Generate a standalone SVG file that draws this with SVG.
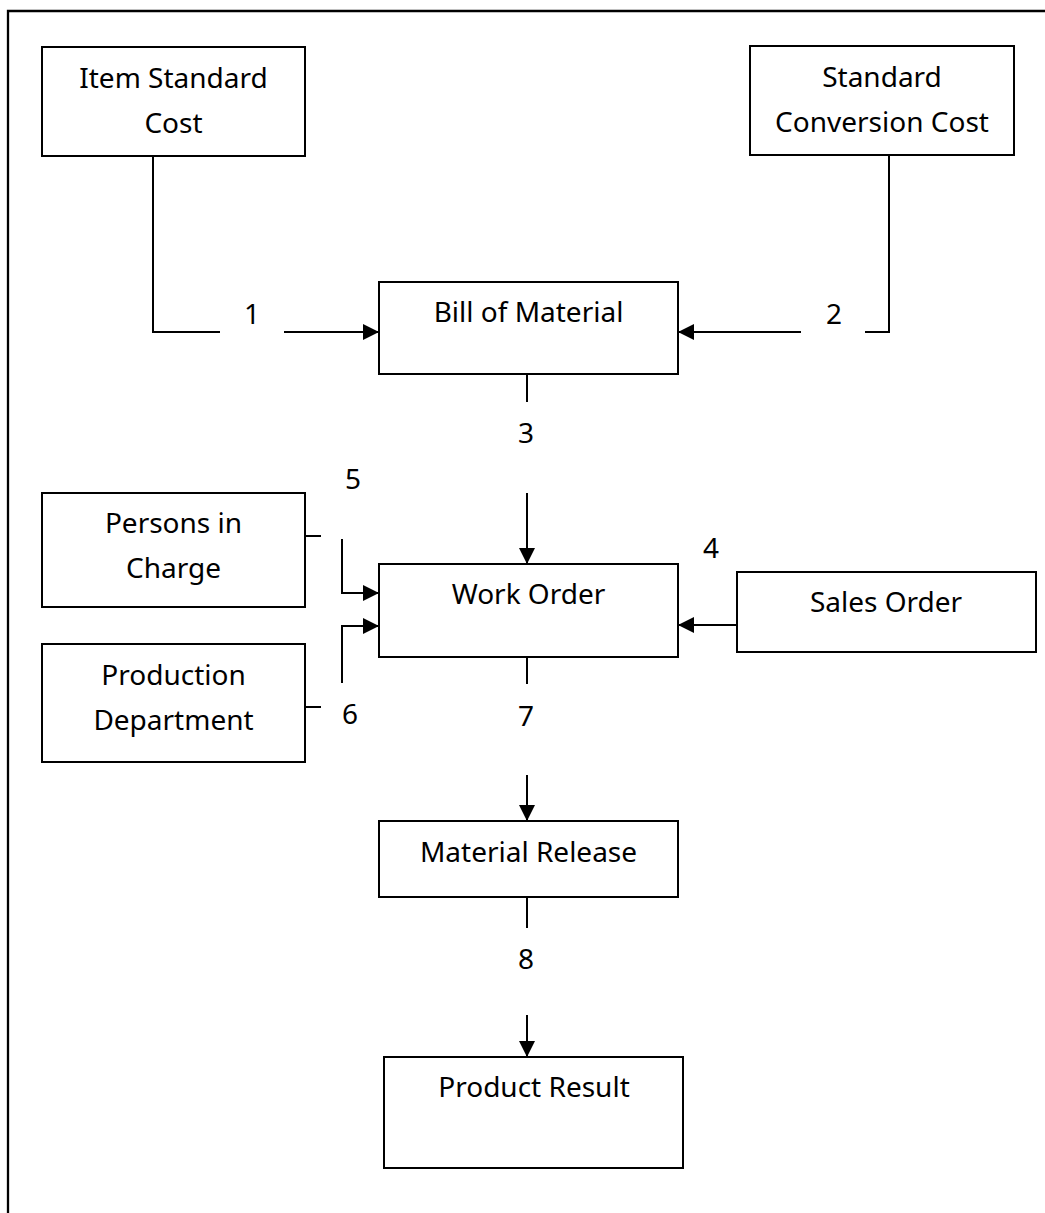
<svg xmlns="http://www.w3.org/2000/svg" width="1045" height="1213" viewBox="0 0 1045 1213">
<defs>
<style>
.box{fill:#fff;stroke:#000;stroke-width:2}
.ln{fill:none;stroke:#000;stroke-width:2}
.arr{marker-end:url(#ah)}
text{font-family:"Noto Sans","Open Sans",sans-serif;font-size:28px;fill:#000;text-anchor:middle}
</style>
<marker id="ah" markerUnits="userSpaceOnUse" markerWidth="17" markerHeight="17" viewBox="0 0 17 17" refX="16" refY="8.5" orient="auto">
<path d="M0,0.5 L16,8.5 L0,16.5 Z" fill="#000"/>
</marker>
</defs>
<rect width="1045" height="1213" fill="#fff"/>
<path d="M8,1213 V11 H1045" fill="none" stroke="#000" stroke-width="2.3"/>
<g id="connectors">
<polyline class="ln" points="153,156 153,332 220,332"/>
<line class="ln arr" x1="284" y1="332" x2="379" y2="332"/>
<polyline class="ln" points="891,155 889,155 889,332 865,332"/>
<line class="ln arr" x1="801" y1="332" x2="678" y2="332"/>
<line class="ln" x1="527" y1="374" x2="527" y2="402"/>
<line class="ln arr" x1="527" y1="493" x2="527" y2="564"/>
<line class="ln arr" x1="737" y1="625" x2="678" y2="625"/>
<line class="ln" x1="305" y1="536" x2="321" y2="536"/>
<polyline class="ln arr" points="342,539 342,593 379,593"/>
<line class="ln" x1="305" y1="707" x2="321" y2="707"/>
<polyline class="ln arr" points="342,683 342,626 379,626"/>
<line class="ln" x1="527" y1="657" x2="527" y2="684"/>
<line class="ln arr" x1="527" y1="775" x2="527" y2="821"/>
<line class="ln" x1="527" y1="897" x2="527" y2="928"/>
<line class="ln arr" x1="527" y1="1015" x2="527" y2="1057"/>
<text x="252" y="324">1</text>
<text x="834" y="324">2</text>
<text x="526" y="443">3</text>
<text x="711" y="558">4</text>
<text x="353" y="489">5</text>
<text x="350" y="724">6</text>
<text x="526" y="726">7</text>
<text x="526" y="969">8</text>
</g>
<g id="item-standard-cost">
<rect class="box" x="42" y="47" width="263" height="109"/>
<text x="173.5" y="88">Item Standard</text>
<text x="173.5" y="133">Cost</text>
</g>
<g id="standard-conversion-cost">
<rect class="box" x="750" y="46" width="264" height="109"/>
<text x="882" y="87">Standard</text>
<text x="882" y="132">Conversion Cost</text>
</g>
<g id="bill-of-material">
<rect class="box" x="379" y="282" width="299" height="92"/>
<text x="528.5" y="322">Bill of Material</text>
</g>
<g id="persons-in-charge">
<rect class="box" x="42" y="493" width="263" height="114"/>
<text x="173.5" y="533">Persons in</text>
<text x="173.5" y="578">Charge</text>
</g>
<g id="production-department">
<rect class="box" x="42" y="644" width="263" height="118"/>
<text x="173.5" y="685">Production</text>
<text x="173.5" y="730">Department</text>
</g>
<g id="work-order">
<rect class="box" x="379" y="564" width="299" height="93"/>
<text x="528.5" y="604">Work Order</text>
</g>
<g id="sales-order">
<rect class="box" x="737" y="572" width="299" height="80"/>
<text x="886" y="612">Sales Order</text>
</g>
<g id="material-release">
<rect class="box" x="379" y="821" width="299" height="76"/>
<text x="528.5" y="862">Material Release</text>
</g>
<g id="product-result">
<rect class="box" x="384" y="1057" width="299" height="111"/>
<text x="534" y="1097">Product Result</text>
</g>
</svg>
